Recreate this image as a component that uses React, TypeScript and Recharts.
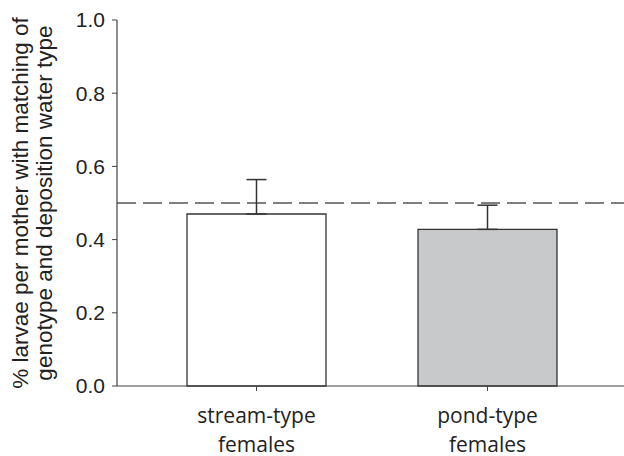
import React from 'react';
import {
  BarChart, Bar, XAxis, YAxis, ReferenceLine, ErrorBar, Cell,
} from 'recharts';

const categories = ['stream-type females', 'pond-type females'];
const means = [0.47, 0.428];
const upperErrors = [0.094, 0.066];
const barFills = ['#ffffff', '#c8c9cb'];
const yTicks = [0, 0.2, 0.4, 0.6, 0.8, 1.0];
const chanceLevel = 0.5;

const data = categories.map((name, i) => ({
  name,
  value: means[i],
  err: [0, upperErrors[i]],
}));

const AXIS = '#444';

const CategoryTick = ({ x, y, payload }: any) => {
  const words = String(payload.value).split(' ');
  return (
    <text
      x={x}
      y={y}
      textAnchor="middle"
      fill="#222"
      fontFamily="'Open Sans', sans-serif"
      fontSize={21}
    >
      <tspan x={x} dy={30}>{words[0]}</tspan>
      <tspan x={x} dy={28.5}>{words[1]}</tspan>
    </text>
  );
};

const YTitle = () => (
  <text
    transform="translate(28, 203) rotate(-90)"
    textAnchor="middle"
    fill="#222"
    fontFamily="'Liberation Sans', Arial, sans-serif"
    fontSize={22.5}
  >
    <tspan x={0} dy={0}>% larvae per mother with matching of</tspan>
    <tspan x={0} dy={24}>genotype and deposition water type</tspan>
  </text>
);

export default function App() {
  return (
    <div style={{ position: 'absolute', left: 0, top: 0, background: '#fff' }}>
      <BarChart
        width={624}
        height={456}
        data={data}
        margin={{ top: 20, right: 0, left: 0, bottom: 0 }}
      >
        <XAxis
          dataKey="name"
          height={70}
          padding={{ left: 24, right: 21 }}
          tick={<CategoryTick />}
          tickLine={{ stroke: AXIS }}
          tickSize={5}
          axisLine={{ stroke: AXIS, strokeWidth: 1.2 }}
          interval={0}
        />
        <YAxis
          width={117}
          domain={[0, 1]}
          ticks={yTicks}
          tickFormatter={(v: number) => v.toFixed(1)}
          tick={{ fill: '#222', fontSize: 21, fontFamily: "'Liberation Sans', Arial, sans-serif" }}
          tickLine={{ stroke: AXIS }}
          tickSize={5}
          tickMargin={7}
          axisLine={{ stroke: AXIS, strokeWidth: 1.2 }}
          label={<YTitle />}
        />
        <ReferenceLine
          y={chanceLevel}
          stroke="#555"
          strokeWidth={1.5}
          strokeDasharray="19 7"
        />
        <Bar dataKey="value" barSize={139} stroke="#333" strokeWidth={1.3} isAnimationActive={false}>
          {data.map((d, i) => (
            <Cell key={d.name} fill={barFills[i]} />
          ))}
          <ErrorBar dataKey="err" direction="y" width={10} stroke="#333" strokeWidth={1.5} />
        </Bar>
      </BarChart>
    </div>
  );
}
